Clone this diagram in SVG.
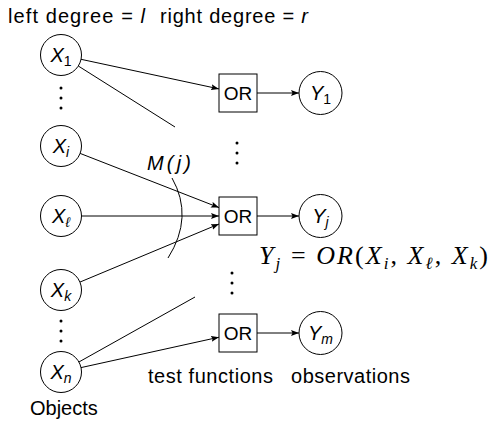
<svg xmlns="http://www.w3.org/2000/svg" width="498" height="421" viewBox="0 0 498 421">
<style>
.n{fill:#fff;stroke:#000;stroke-width:1}
.e{fill:none;stroke:#000;stroke-width:1}
.a{marker-end:url(#ah)}
.t{font-family:"Liberation Sans",Arial,sans-serif;font-size:20px;fill:#000}
.lbl{font-family:"Liberation Sans",Arial,sans-serif;font-size:20px;font-style:italic;fill:#000;text-anchor:middle}
.sub{font-size:14px}
.up{font-style:normal}
.or{font-family:"Liberation Sans",Arial,sans-serif;font-size:19px;fill:#000;text-anchor:middle}
.eq{font-family:"Liberation Serif","Times New Roman",serif;font-size:26px;font-style:italic;fill:#000}
.d{fill:#000}
</style>
<defs>
<marker id="ah" markerWidth="8" markerHeight="6" refX="8" refY="3" orient="auto" markerUnits="userSpaceOnUse">
<path d="M0,0 L8,3 L0,6 L1.5,3 z" fill="#000"/>
</marker>
</defs>
<g id="connectors">
<path class="e a" d="M81,59.3 L219,88.9"/>
<path class="e" d="M78.3,66 L175,127"/>
<path class="e a" d="M80.1,153.4 L219,207.6"/>
<path class="e a" d="M81.5,216 L219,216"/>
<path class="e a" d="M79.9,282.1 L219,224"/>
<path class="e a" d="M81,367.6 L219,337.2"/>
<path class="e" d="M78.9,362 L195,297"/>
<path class="e a" d="M257,93 L299,93"/>
<path class="e a" d="M257,216 L299,216"/>
<path class="e a" d="M257,333 L299,333"/>
<path class="e" d="M172,178 Q194,217 168,258"/>
</g>
<g id="X1"><circle class="n" cx="61" cy="55" r="20.5"/><text class="lbl" x="61" y="62">X<tspan class="sub up" dy="4">1</tspan></text></g>
<g id="Xi"><circle class="n" cx="61" cy="146" r="20.5"/><text class="lbl" x="61" y="153">X<tspan class="sub" dy="4">i</tspan></text></g>
<g id="Xl"><circle class="n" cx="61" cy="216" r="20.5"/><text class="lbl" x="61" y="223">X<tspan class="sub" dy="4">ℓ</tspan></text></g>
<g id="Xk"><circle class="n" cx="61" cy="290" r="20.5"/><text class="lbl" x="61" y="297">X<tspan class="sub" dy="4">k</tspan></text></g>
<g id="Xn"><circle class="n" cx="61" cy="372" r="20.5"/><text class="lbl" x="61" y="379">X<tspan class="sub" dy="4">n</tspan></text></g>
<g id="OR1"><rect class="n" x="219" y="74" width="38" height="38"/><text class="or" x="238" y="100">OR</text></g>
<g id="ORj"><rect class="n" x="219" y="197" width="38" height="38"/><text class="or" x="238" y="223">OR</text></g>
<g id="ORm"><rect class="n" x="219" y="314" width="38" height="38"/><text class="or" x="238" y="340">OR</text></g>
<g id="Y1"><circle class="n" cx="320.5" cy="93" r="21.5"/><text class="lbl" x="320.5" y="100">Y<tspan class="sub up" dy="4">1</tspan></text></g>
<g id="Yj"><circle class="n" cx="320.5" cy="216" r="21.5"/><text class="lbl" x="320.5" y="223">Y<tspan class="sub" dy="4">j</tspan></text></g>
<g id="Ym"><circle class="n" cx="320.5" cy="333" r="21.5"/><text class="lbl" x="320.5" y="340">Y<tspan class="sub" dy="4">m</tspan></text></g>
<g id="dots">
<circle class="d" cx="61" cy="88" r="1.5"/><circle class="d" cx="61" cy="98" r="1.5"/><circle class="d" cx="61" cy="108" r="1.5"/>
<circle class="d" cx="61" cy="321" r="1.5"/><circle class="d" cx="61" cy="331" r="1.5"/><circle class="d" cx="61" cy="341" r="1.5"/>
<circle class="d" cx="237" cy="143" r="1.5"/><circle class="d" cx="237" cy="153" r="1.5"/><circle class="d" cx="237" cy="163" r="1.5"/>
<circle class="d" cx="232" cy="273" r="1.5"/><circle class="d" cx="232" cy="283" r="1.5"/><circle class="d" cx="232" cy="293" r="1.5"/>
</g>
<g id="labels">
<text class="t" x="8" y="23" textLength="137" lengthAdjust="spacing">left degree = <tspan font-style="italic">l</tspan></text>
<text class="t" x="160" y="23" textLength="148" lengthAdjust="spacing">right degree = <tspan font-style="italic">r</tspan></text>
<text class="t" x="148" y="383" textLength="125" lengthAdjust="spacing">test functions</text>
<text class="t" x="291" y="383" textLength="119" lengthAdjust="spacing">observations</text>
<text class="t" x="30" y="415" font-size="18.5">Objects</text>
<text class="t" x="147" y="170" font-size="21" font-style="italic" textLength="44" lengthAdjust="spacing">M(j)</text>
<text class="eq" x="259" y="264" textLength="229" lengthAdjust="spacing">Y<tspan dy="5" font-size="17">j</tspan><tspan dy="-5" font-style="normal"> = </tspan>OR<tspan font-style="normal">(</tspan>X<tspan dy="5" font-size="17">i</tspan><tspan dy="-5" font-style="normal">, </tspan>X<tspan dy="5" font-size="17">ℓ</tspan><tspan dy="-5" font-style="normal">, </tspan>X<tspan dy="5" font-size="17">k</tspan><tspan dy="-5" font-style="normal">)</tspan></text>
</g>
</svg>
